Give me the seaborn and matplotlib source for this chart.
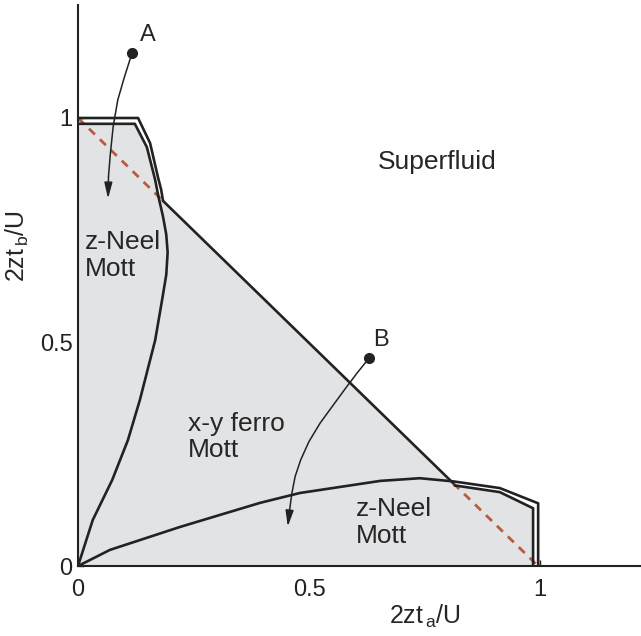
import numpy as np
import pandas as pd
import matplotlib.pyplot as plt
import seaborn as sns

# Frontières (coordonnées 2zt_a/U, 2zt_b/U)
left_x = [0, 0.123, 0.149, 0.167, 0.174, 0.184, 0.191, 0.194, 0.191, 0.183, 0.167, 0.134, 0.108, 0.074, 0.032, 0]
left_y = [0.987, 0.987, 0.935, 0.862, 0.825, 0.78, 0.74, 0.70, 0.65, 0.6, 0.504, 0.371, 0.281, 0.192, 0.103, 0]
top_outer_x = [0, 0.13, 0.156, 0.173, 0.180, 0.184]
top_outer_y = [1.0, 1.0, 0.944, 0.868, 0.84, 0.815]
diag_x = [0.184, 0.812]
diag_y = [0.815, 0.185]
lower_x = [0, 0.069, 0.22, 0.394, 0.48, 0.654, 0.74, 0.812, 0.913, 0.996, 0.996]
lower_y = [0, 0.036, 0.087, 0.141, 0.163, 0.19, 0.196, 0.189, 0.174, 0.14, 0]
low_inner_x = [0.815, 0.913, 0.985, 0.985]
low_inner_y = [0.18, 0.165, 0.129, 0]
# Ligne x+y=1 (visible seulement hors de la frontière pleine)
mf_top_x = [0, 0.184]
mf_top_y = [1, 0.815]
mf_bot_x = [0.812, 0.996]
mf_bot_y = [0.185, 0]

# Trajectoires A et B
path_a_x = [0.117, 0.1, 0.086, 0.076, 0.070, 0.066, 0.065]
path_a_y = [1.145, 1.09, 1.04, 0.98, 0.92, 0.87, 0.82]
path_b_x = [0.63, 0.605, 0.58, 0.553, 0.524, 0.5, 0.482, 0.47, 0.463, 0.458, 0.454]
path_b_y = [0.464, 0.432, 0.398, 0.36, 0.319, 0.278, 0.237, 0.2, 0.163, 0.125, 0.088]

ticks = [0, 0.5, 1]
tick_labels = ["0", "0.5", "1"]

sns.set_theme(style="ticks")
plt.rcParams['font.family'] = ['Liberation Sans', 'DejaVu Sans']
plt.rcParams['mathtext.fontset'] = 'custom'
plt.rcParams['mathtext.rm'] = 'Liberation Sans'

fig = plt.figure(figsize=(6.41, 6.36), dpi=100)
ax = fig.add_axes([0.1217, 0.11, 0.8783, 0.882])

dark = "#222222"

# Région grise (Mott)
fill_x = [0] + left_x[:5] + diag_x + low_inner_x + [0]
fill_y = [0] + left_y[:5] + diag_y + low_inner_y + [0]
ax.fill(fill_x, fill_y, color="#e2e3e5", lw=0, zorder=1)

# Ligne champ moyen (tirets)
for xs, ys in [(mf_top_x, mf_top_y), (mf_bot_x, mf_bot_y)]:
    sns.lineplot(x=xs, y=ys, ax=ax, color="#b95c3e", lw=2, sort=False,
                 estimator=None, zorder=2).lines[-1].set_dashes([3, 2.5])

for xs, ys in [(left_x, left_y), (top_outer_x, top_outer_y), (diag_x, diag_y),
               (lower_x, lower_y), (low_inner_x, low_inner_y)]:
    sns.lineplot(x=xs, y=ys, ax=ax, color=dark, lw=1.9, sort=False,
                 estimator=None, zorder=3)

# Flèches
for xs, ys in [(path_a_x, path_a_y), (path_b_x, path_b_y)]:
    ax.plot(xs[:-1], ys[:-1], color=dark, lw=1.1, zorder=4)
    ax.annotate("", xy=(xs[-1], ys[-1]), xytext=(xs[-2], ys[-2]),
                arrowprops=dict(arrowstyle="-|>,head_length=0.8,head_width=0.2",
                                color=dark, lw=1.1, shrinkA=0, shrinkB=0),
                zorder=4)
    ax.plot(xs[0], ys[0], "o", color=dark, ms=7, zorder=5)

fs = 19
ax.text(0.152, 1.185, "A", fontsize=17, ha="center", va="center")
ax.text(0.656, 0.504, "B", fontsize=17, ha="center", va="center")
ax.text(0.777, 0.902, "Superfluid", fontsize=fs, ha="center", va="center")
ax.text(0.015, 0.694, "z-Neel\nMott", fontsize=fs, ha="left", va="center", linespacing=1.15)
ax.text(0.238, 0.288, "x-y ferro\nMott", fontsize=fs, ha="left", va="center", linespacing=1.15)
ax.text(0.602, 0.098, "z-Neel\nMott", fontsize=fs, ha="left", va="center", linespacing=1.15)

ax.set_xlim(0, 1.2186)
ax.set_ylim(0, 1.252)
ax.set_xticks(ticks)
ax.set_xticklabels(tick_labels)
ax.set_yticks(ticks)
ax.set_yticklabels(tick_labels)
ax.tick_params(axis="both", direction="in", length=4, width=1, colors=dark, labelsize=17)
ax.tick_params(axis="x", pad=9)
ax.tick_params(axis="y", pad=4)
sns.despine(ax=ax)
for s in ["left", "bottom"]:
    ax.spines[s].set_linewidth(1.5)
    ax.spines[s].set_color(dark)

ax.set_xlabel(r"2zt$_{\,\mathrm{a}}$/U", fontsize=18)
ax.set_ylabel(r"2zt$_{\,\mathrm{b}}$/U", fontsize=18)
ax.xaxis.set_label_coords(0.617, -0.066)
ax.yaxis.set_label_coords(-0.083, 0.57)

fig.savefig("out.png", dpi=100)
